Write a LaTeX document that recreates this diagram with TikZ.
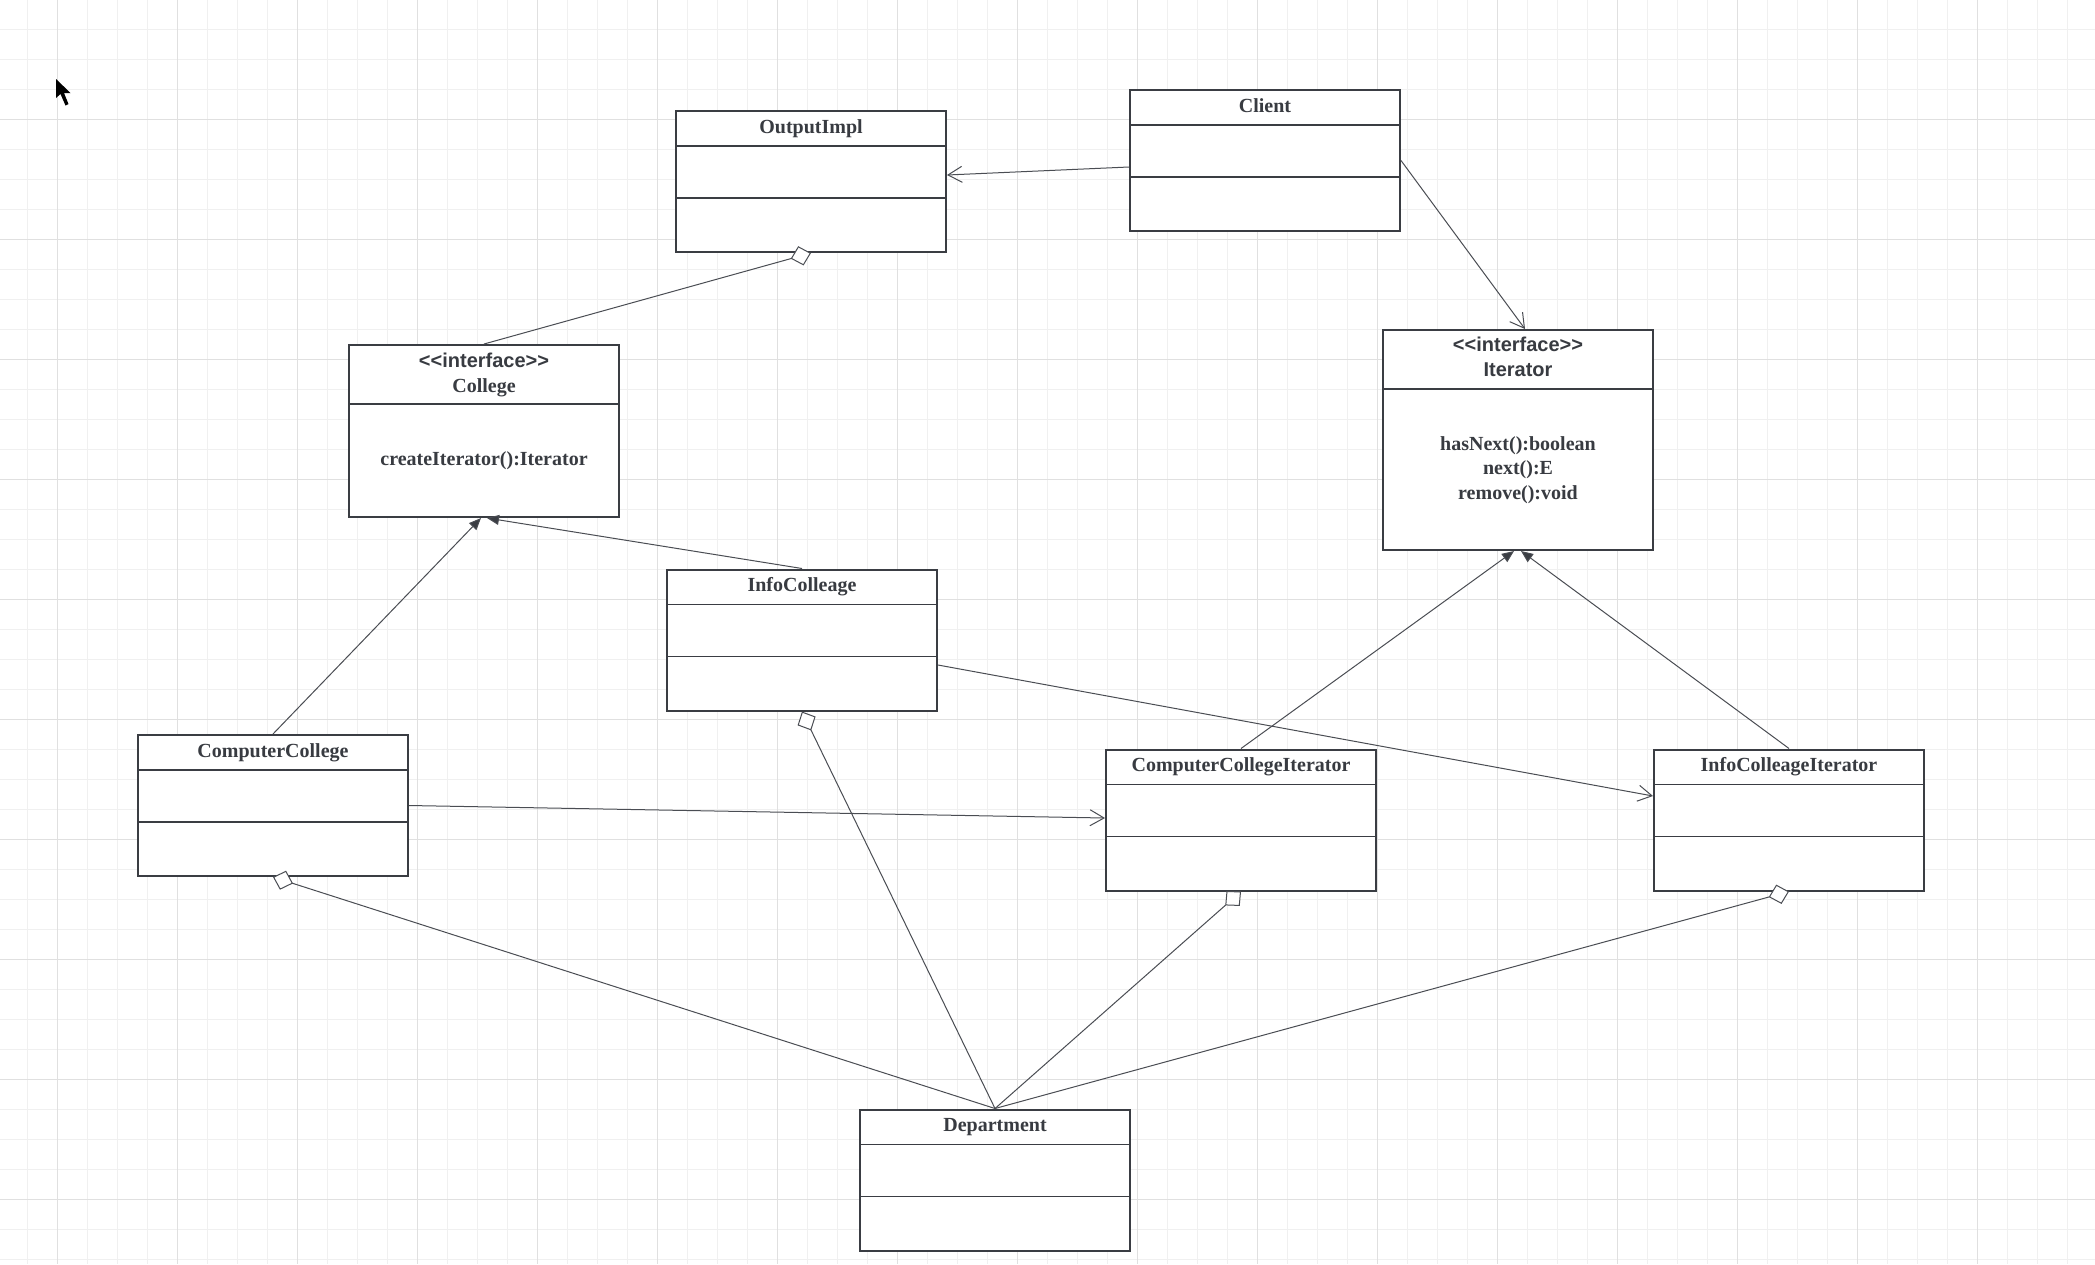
\documentclass[tikz,border=0pt]{standalone}
\usepackage{fontspec}
\setmainfont{Liberation Serif}
\setsansfont{Liberation Sans}
\usepackage{tikz}
\usetikzlibrary{arrows.meta,positioning,calc}
\definecolor{umlline}{HTML}{3A3D43}
\definecolor{umltext}{HTML}{383B41}
\definecolor{umllink}{HTML}{4A4D53}
\definecolor{gridminor}{HTML}{F0F0F0}
\definecolor{gridmajor}{HTML}{E0E0E0}

\begin{document}
\begin{tikzpicture}[
  x=1pt, y=-1pt,
  classbox/.style={
    draw=umlline, fill=white, line width=2pt, inner sep=0pt,
    minimum width=270pt, minimum height=141pt
  },
  ifacebox/.style={classbox, minimum height=#1},
  sepline/.style={draw=umlline, line width=1.6pt},
  classname/.style={
    font=\fontsize{20}{24.5}\selectfont\bfseries, text=umltext, inner sep=0pt,
    text height=14pt, text depth=4pt
  },
  ifacename/.style={
    font=\fontsize{20}{24.5}\selectfont\bfseries, text=umltext, inner sep=0pt, align=center
  },
  assoc/.style={draw=umllink, line width=1pt, -{Straight Barb[length=14pt, width=16pt, line width=1pt]}},
  realize/.style={draw=umllink, line width=1pt, -{Triangle[length=12pt, width=10pt, fill=umlline]}},
  aggr/.style={draw=umllink, line width=1pt, -{Diamond[length=21pt, width=20pt, fill=white, line width=1pt]}}
]
  \useasboundingbox (0,0) rectangle (2095,1264);
  \fill[white] (0,0) rectangle (2095,1264);

  % Grid paper
  \foreach \gx in {27,57,...,2095}
    \draw[gridminor, line width=1pt] (\gx,0) -- (\gx,1264);
  \foreach \gy in {29,59,...,1264}
    \draw[gridminor, line width=1pt] (0,\gy) -- (2095,\gy);
  \foreach \gx in {57,177,...,2095}
    \draw[gridmajor, line width=1pt] (\gx,0) -- (\gx,1264);
  \foreach \gy in {119,239,...,1264}
    \draw[gridmajor, line width=1pt] (0,\gy) -- (2095,\gy);

  % Mouse pointer
  \fill[black] (56,79) -- (56,98) -- (60.5,94) -- (65.5,105.5) -- (68.5,104) -- (64,93) -- (70.5,93) -- cycle;

  % Plain classes
  \node[classbox] (outimpl)  at (811,181.5)  {};
  \node[classbox] (client)   at (1265,160.5) {};
  \node[classbox] (infocol)  at (802,640)    {};
  \node[classbox] (compcol)  at (273,805.5)  {};
  \node[classbox] (compiter) at (1241,820)   {};
  \node[classbox] (infoiter) at (1789,820)   {};
  \node[classbox] (dept)     at (995,1180)   {};

  \foreach \c in {outimpl,client,infocol,compcol,compiter,infoiter,dept} {
    \draw[sepline] ([yshift=-36pt]\c.north west) -- ([yshift=-36pt]\c.north east);
    \draw[sepline] ([yshift=-88pt]\c.north west) -- ([yshift=-88pt]\c.north east);
  }

  \node[classname] (outimpl-t)  at ([yshift=-18pt]outimpl.north)  {OutputImpl};
  \node[classname] (client-t)   at ([yshift=-18pt]client.north)   {Client};
  \node[classname] (infocol-t)  at ([yshift=-18pt]infocol.north)  {InfoColleage};
  \node[classname] (compcol-t)  at ([yshift=-18pt]compcol.north)  {ComputerCollege};
  \node[classname] (compiter-t) at ([yshift=-18pt]compiter.north) {ComputerCollegeIterator};
  \node[classname] (infoiter-t) at ([yshift=-18pt]infoiter.north) {InfoColleageIterator};
  \node[classname] (dept-t)     at ([yshift=-18pt]dept.north)     {Department};

  % Interfaces
  \node[ifacebox=172pt] (college)  at (484,431)  {};
  \node[ifacebox=220pt] (iterator) at (1518,440) {};
  \draw[sepline] ([yshift=-60pt]college.north west) -- ([yshift=-60pt]college.north east);
  \draw[sepline] ([yshift=-60pt]iterator.north west) -- ([yshift=-60pt]iterator.north east);

  \node[ifacename] (college-t) at ([yshift=-31pt]college.north)
    {{\sffamily <\kern0pt<interface>\kern0pt>}\\College};
  \node[ifacename] (college-m) at ([yshift=-117pt]college.north)
    {createIterator():Iterator};
  \node[ifacename] (iterator-t) at ([yshift=-28pt]iterator.north)
    {\sffamily <\kern0pt<interface>\kern0pt>\\\sffamily Iterator};
  \node[ifacename] (iterator-m) at ([yshift=-141pt]iterator.north)
    {hasNext():boolean\\next():E\\remove():void};

  % Associations
  \draw[assoc] ([yshift=-6.5pt]client.west) -- ([yshift=6.5pt]outimpl.east);
  \draw[assoc] (client.east) -- ([xshift=7pt]iterator.north);
  \draw[assoc] (compcol.east) -- ([yshift=2pt]compiter.west);
  \draw[assoc] ([yshift=-25pt]infocol.east) -- ([yshift=24pt]infoiter.west);

  % Implementations
  \draw[realize] (compcol.north) -- ([xshift=-3pt]college.south);
  \draw[realize] (infocol.north) -- ([xshift=3pt]college.south);
  \draw[realize] (compiter.north) -- ([xshift=-4pt]iterator.south);
  \draw[realize] (infoiter.north) -- ([xshift=3pt]iterator.south);

  % Aggregations
  \draw[aggr] (college.north) -- (outimpl.south);
  \draw[aggr] (dept.north) -- (compcol.south);
  \draw[aggr] (dept.north) -- (infocol.south);
  \draw[aggr] (dept.north) -- (compiter.south);
  \draw[aggr] (dept.north) -- (infoiter.south);
\end{tikzpicture}
\end{document}
